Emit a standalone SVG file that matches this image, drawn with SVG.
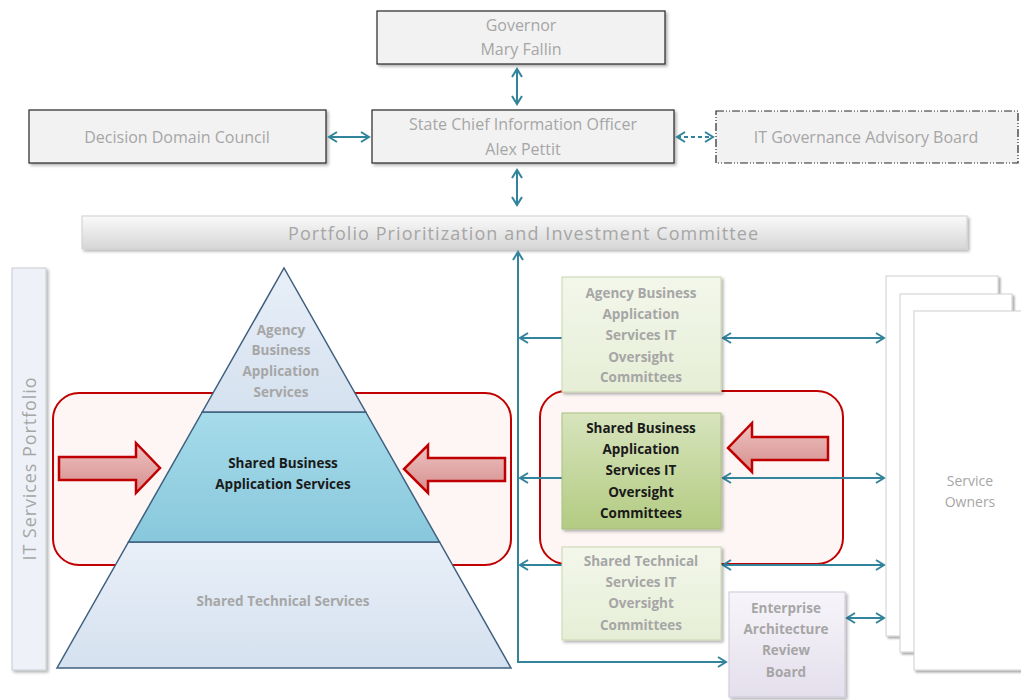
<svg xmlns="http://www.w3.org/2000/svg" width="1021" height="700" viewBox="0 0 1021 700">
<style>
.top{fill:#f2f2f2;stroke:#262626;stroke-width:1.2}
.tt{font-family:"Open Sans","Liberation Sans",sans-serif;font-size:16px;fill:#a6a6a6;text-anchor:middle}
.bt{font-family:"Open Sans","Liberation Sans",sans-serif;font-size:13.5px;font-weight:bold;fill:#a6a6a6;text-anchor:middle}
.bk{fill:#1a1a1a}
.con{stroke:#31849b;stroke-width:2;fill:none}
.redbox{fill:#fdf6f5;stroke:#c00000;stroke-width:2}
.redarr{fill:url(#rg);stroke:#c00000;stroke-width:2.5;stroke-linejoin:miter}
.gl{fill:url(#gl);stroke:#c9d6b0;stroke-width:1;filter:url(#sh)}
.page{fill:#fff;stroke:#d0d0d0;stroke-width:1;filter:url(#sh2)}
</style>
<defs>
<marker id="ah" markerWidth="12" markerHeight="12" refX="9" refY="6" orient="auto-start-reverse" markerUnits="userSpaceOnUse">
<path d="M1,1 L9,6 L1,11" fill="none" stroke="#31849b" stroke-width="2"/>
</marker>
<linearGradient id="rg" x1="0" y1="0" x2="0" y2="1"><stop offset="0" stop-color="#eec3c2"/><stop offset="1" stop-color="#d58e8c"/></linearGradient>
<linearGradient id="gl" x1="0" y1="0" x2="0" y2="1"><stop offset="0" stop-color="#f3f7eb"/><stop offset="1" stop-color="#e6eed6"/></linearGradient>
<linearGradient id="gd" x1="0" y1="0" x2="0" y2="1"><stop offset="0" stop-color="#d7e4bd"/><stop offset="1" stop-color="#b3cb82"/></linearGradient>
<linearGradient id="pv" x1="0" y1="0" x2="0" y2="1"><stop offset="0" stop-color="#f7f5fa"/><stop offset="1" stop-color="#e4dfec"/></linearGradient>
<linearGradient id="bar" x1="0" y1="0" x2="0" y2="1"><stop offset="0" stop-color="#fafafa"/><stop offset="1" stop-color="#d6d6d6"/></linearGradient>
<linearGradient id="pb" x1="0" y1="0" x2="0" y2="1"><stop offset="0" stop-color="#e8eff8"/><stop offset="1" stop-color="#d5e1ef"/></linearGradient>
<linearGradient id="pm" x1="0" y1="0" x2="0" y2="1"><stop offset="0" stop-color="#a6dbea"/><stop offset="1" stop-color="#88c8dc"/></linearGradient>
<filter id="sh" x="-10%" y="-10%" width="130%" height="130%"><feDropShadow dx="2" dy="2" stdDeviation="1.5" flood-color="#000" flood-opacity="0.3"/></filter>
<filter id="sh2" x="-10%" y="-10%" width="130%" height="130%"><feDropShadow dx="2" dy="2" stdDeviation="1.2" flood-color="#000" flood-opacity="0.35"/></filter>
</defs>

<g id="governor"><rect class="top" x="377" y="11" width="288" height="53" filter="url(#sh)"/><text class="tt" x="521" y="31">Governor</text><text class="tt" x="521" y="55">Mary Fallin</text></g>
<g id="ddc"><rect class="top" x="29" y="110" width="297" height="53" filter="url(#sh)"/><text class="tt" x="177" y="143">Decision Domain Council</text></g>
<g id="scio"><rect class="top" x="372" y="110" width="302" height="53" filter="url(#sh)"/><text class="tt" x="523" y="130">State Chief Information Officer</text><text class="tt" x="523" y="155">Alex Pettit</text></g>
<g id="itgab"><rect x="716" y="111" width="302" height="52" fill="#f2f2f2" stroke="#262626" stroke-width="1.2" stroke-dasharray="8,2,1,2,1,2"/><text class="tt" x="866" y="143">IT Governance Advisory Board</text></g>
<g id="ppic"><rect x="82" y="216" width="885" height="33" fill="url(#bar)" stroke="#d0d0d0" filter="url(#sh)"/><text class="tt" x="523" y="240" style="font-size:18px" textLength="470" lengthAdjust="spacing">Portfolio Prioritization and Investment Committee</text></g>

<g id="its-portfolio"><rect x="12" y="268" width="34" height="402" fill="#eef2f8" stroke="#c8ccd2" filter="url(#sh)"/><text class="tt" transform="translate(36,469) rotate(-90)" style="font-size:18px" textLength="183" lengthAdjust="spacing">IT Services  Portfolio</text></g>

<g id="left-focus"><rect class="redbox" x="53" y="393" width="458" height="172" rx="26"/>
<path class="redarr" d="M59,457 H136 V443 L160,468 L136,493 V480 H59 Z"/>
<path class="redarr" d="M505,458 H428 V445 L404,469 L428,493 V481 H505 Z"/></g>

<g id="pyramid">
<polygon points="57,668 511,668 439.5,542 128.5,542" fill="url(#pb)" stroke="#3f5f7f" stroke-width="1.5"/>
<polygon points="128.5,542 439.5,542 365.7,412 202.3,412" fill="url(#pm)" stroke="#3f5f7f" stroke-width="1.5"/>
<polygon points="202.3,412 365.7,412 284,268" fill="url(#pb)" stroke="#3f5f7f" stroke-width="1.5"/>
<text class="bt" x="281" y="335">Agency</text><text class="bt" x="281" y="355">Business</text><text class="bt" x="281" y="376">Application</text><text class="bt" x="281" y="397">Services</text>
<text class="bt bk" x="283" y="468">Shared Business</text><text class="bt bk" x="283" y="489">Application Services</text>
<text class="bt" x="283" y="606">Shared Technical Services</text>
</g>

<g id="right-focus"><rect class="redbox" x="540" y="391" width="303" height="173" rx="26"/></g>

<g id="connectors">
<line class="con" x1="517" y1="69" x2="517" y2="104" marker-start="url(#ah)" marker-end="url(#ah)"/>
<line class="con" x1="329" y1="137" x2="369" y2="137" marker-start="url(#ah)" marker-end="url(#ah)"/>
<line class="con" x1="677" y1="137" x2="713" y2="137" stroke-dasharray="4,3" marker-start="url(#ah)" marker-end="url(#ah)"/>
<line class="con" x1="517" y1="170" x2="517" y2="205" marker-start="url(#ah)" marker-end="url(#ah)"/>
<polyline class="con" points="518,252 518,662 726,662" marker-start="url(#ah)" marker-end="url(#ah)"/>
<line class="con" x1="562" y1="338" x2="520" y2="338" marker-end="url(#ah)"/>
<line class="con" x1="562" y1="478" x2="520" y2="478" marker-end="url(#ah)"/>
<line class="con" x1="562" y1="565" x2="520" y2="565" marker-end="url(#ah)"/>
<line class="con" x1="723" y1="338" x2="884" y2="338" marker-start="url(#ah)" marker-end="url(#ah)"/>
<line class="con" x1="723" y1="478" x2="884" y2="478" marker-start="url(#ah)" marker-end="url(#ah)"/>
<line class="con" x1="723" y1="565" x2="884" y2="565" marker-start="url(#ah)" marker-end="url(#ah)"/>
<line class="con" x1="847" y1="618" x2="884" y2="618" marker-start="url(#ah)" marker-end="url(#ah)"/>
</g>

<g id="agency-committees"><rect class="gl" x="562" y="277" width="159" height="115"/><text class="bt" x="641" y="298">Agency Business</text><text class="bt" x="641" y="319">Application</text><text class="bt" x="641" y="340">Services  IT</text><text class="bt" x="641" y="362">Oversight</text><text class="bt" x="641" y="382">Committees</text></g>
<g id="shared-business-committees"><rect x="562" y="413" width="159" height="116" fill="url(#gd)" stroke="#a9bf7e" filter="url(#sh)"/><text class="bt bk" x="641" y="433">Shared Business</text><text class="bt bk" x="641" y="454">Application</text><text class="bt bk" x="641" y="475">Services  IT</text><text class="bt bk" x="641" y="497">Oversight</text><text class="bt bk" x="641" y="518">Committees</text></g>
<g id="shared-tech-committees"><rect class="gl" x="562" y="547" width="159" height="93"/><text class="bt" x="641" y="566">Shared Technical</text><text class="bt" x="641" y="587">Services IT</text><text class="bt" x="641" y="608">Oversight</text><text class="bt" x="641" y="630">Committees</text></g>
<path id="right-red-arrow" class="redarr" d="M828,437 H752 V423 L728,448 L752,472 V460 H828 Z"/>
<g id="earb"><rect x="729" y="592" width="116" height="105" fill="url(#pv)" stroke="#cfc8da" filter="url(#sh)"/><text class="bt" x="786" y="613">Enterprise</text><text class="bt" x="786" y="634">Architecture</text><text class="bt" x="786" y="655">Review</text><text class="bt" x="786" y="677">Board</text></g>

<g id="service-owners">
<rect class="page" x="886" y="276" width="112" height="360"/>
<rect class="page" x="900" y="294" width="112" height="358"/>
<rect class="page" x="914" y="311" width="112" height="359"/>
<text class="bt" x="970" y="486" style="font-weight:normal;font-size:14px">Service</text><text class="bt" x="970" y="507" style="font-weight:normal;font-size:14px">Owners</text>
</g>
</svg>
